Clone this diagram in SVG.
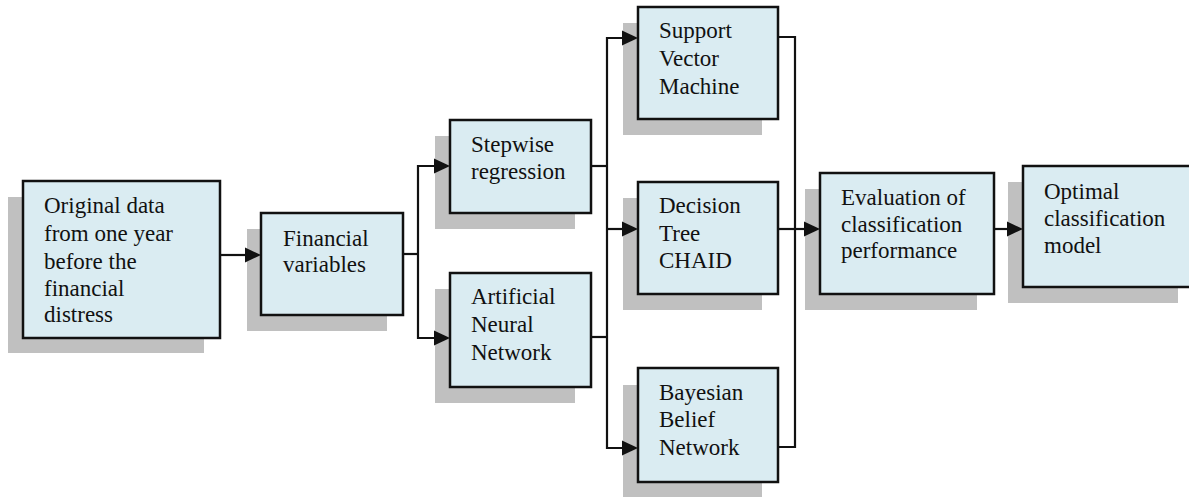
<svg xmlns="http://www.w3.org/2000/svg" xmlns:xlink="http://www.w3.org/1999/xlink" width="1189" height="497" viewBox="0 0 1189 497">
<style>
.sh{fill:#c0c0c0;stroke:none}
.bx{fill:#daecf2;stroke:#111;stroke-width:2.5}
.t{font-size:23px;fill:#111}
.c{fill:none;stroke:#111;stroke-width:2.2}
.ah{fill:#111;stroke:none}
</style>
<defs>
<path id="arr" class="ah" d="M-16,-7.5 L0,0 L-16,7.5 Z"/>
</defs>
<rect width="1189" height="497" fill="#fff"/>
<g font-family="'Liberation Serif', 'Times New Roman', Tinos, 'DejaVu Serif', 'Noto Serif', serif">
<g id="n1">
<rect class="sh" x="8" y="197" width="196" height="156"/>
<rect class="bx" x="23" y="181" width="197" height="157"/>
<text class="t" x="44" y="213">Original data</text>
<text class="t" x="44" y="241">from one year</text>
<text class="t" x="44" y="269">before the</text>
<text class="t" x="44" y="296">financial</text>
<text class="t" x="44" y="322">distress</text>
</g>
<g id="n2">
<rect class="sh" x="247" y="229" width="140" height="102"/>
<rect class="bx" x="261" y="213" width="142" height="102"/>
<text class="t" x="283" y="246">Financial</text>
<text class="t" x="283" y="272">variables</text>
</g>
<g id="n3">
<rect class="sh" x="435" y="136" width="140" height="93"/>
<rect class="bx" x="450" y="120" width="141" height="93"/>
<text class="t" x="471" y="152">Stepwise</text>
<text class="t" x="471" y="179">regression</text>
</g>
<g id="n4">
<rect class="sh" x="435" y="289" width="140" height="114"/>
<rect class="bx" x="450" y="273" width="141" height="114"/>
<text class="t" x="471" y="304">Artificial</text>
<text class="t" x="471" y="332">Neural</text>
<text class="t" x="471" y="360">Network</text>
</g>
<g id="n5">
<rect class="sh" x="623" y="23" width="139" height="112"/>
<rect class="bx" x="638" y="7" width="140" height="112"/>
<text class="t" x="659" y="38">Support</text>
<text class="t" x="659" y="66">Vector</text>
<text class="t" x="659" y="94">Machine</text>
</g>
<g id="n6">
<rect class="sh" x="623" y="198" width="139" height="112"/>
<rect class="bx" x="638" y="182" width="140" height="112"/>
<text class="t" x="659" y="213">Decision</text>
<text class="t" x="659" y="241">Tree</text>
<text class="t" x="659" y="268">CHAID</text>
</g>
<g id="n7">
<rect class="sh" x="623" y="385" width="139" height="112"/>
<rect class="bx" x="638" y="368" width="140" height="114"/>
<text class="t" x="659" y="400">Bayesian</text>
<text class="t" x="659" y="427">Belief</text>
<text class="t" x="659" y="455">Network</text>
</g>
<g id="n8">
<rect class="sh" x="805" y="189" width="172" height="121"/>
<rect class="bx" x="820" y="173" width="174" height="121"/>
<text class="t" x="841" y="205">Evaluation of</text>
<text class="t" x="841" y="232">classification</text>
<text class="t" x="841" y="258">performance</text>
</g>
<g id="n9">
<rect class="sh" x="1008" y="182" width="170" height="121"/>
<rect class="bx" x="1023" y="166" width="170" height="121"/>
<text class="t" x="1044" y="199">Optimal</text>
<text class="t" x="1044" y="226">classification</text>
<text class="t" x="1044" y="253">model</text>
</g>
</g>
<g id="connectors">
<path class="c" d="M220,255 H250"/>
<path class="c" d="M403,254 H418"/>
<path class="c" d="M418,254 V166 H440"/>
<path class="c" d="M418,254 V338 H440"/>
<path class="c" d="M591,166 H607"/>
<path class="c" d="M591,337 H607"/>
<path class="c" d="M607,229 V38 H628"/>
<path class="c" d="M607,229 H628"/>
<path class="c" d="M607,229 V448 H628"/>
<path class="c" d="M778,37 H795 V447 H778"/>
<path class="c" d="M778,229 H810"/>
<path class="c" d="M994,229 H1012"/>
<use href="#arr" xlink:href="#arr" x="261" y="255"/>
<use href="#arr" xlink:href="#arr" x="450" y="166"/>
<use href="#arr" xlink:href="#arr" x="450" y="338"/>
<use href="#arr" xlink:href="#arr" x="638" y="38"/>
<use href="#arr" xlink:href="#arr" x="638" y="229"/>
<use href="#arr" xlink:href="#arr" x="638" y="448"/>
<use href="#arr" xlink:href="#arr" x="820" y="229"/>
<use href="#arr" xlink:href="#arr" x="1023" y="229"/>
</g>
</svg>
